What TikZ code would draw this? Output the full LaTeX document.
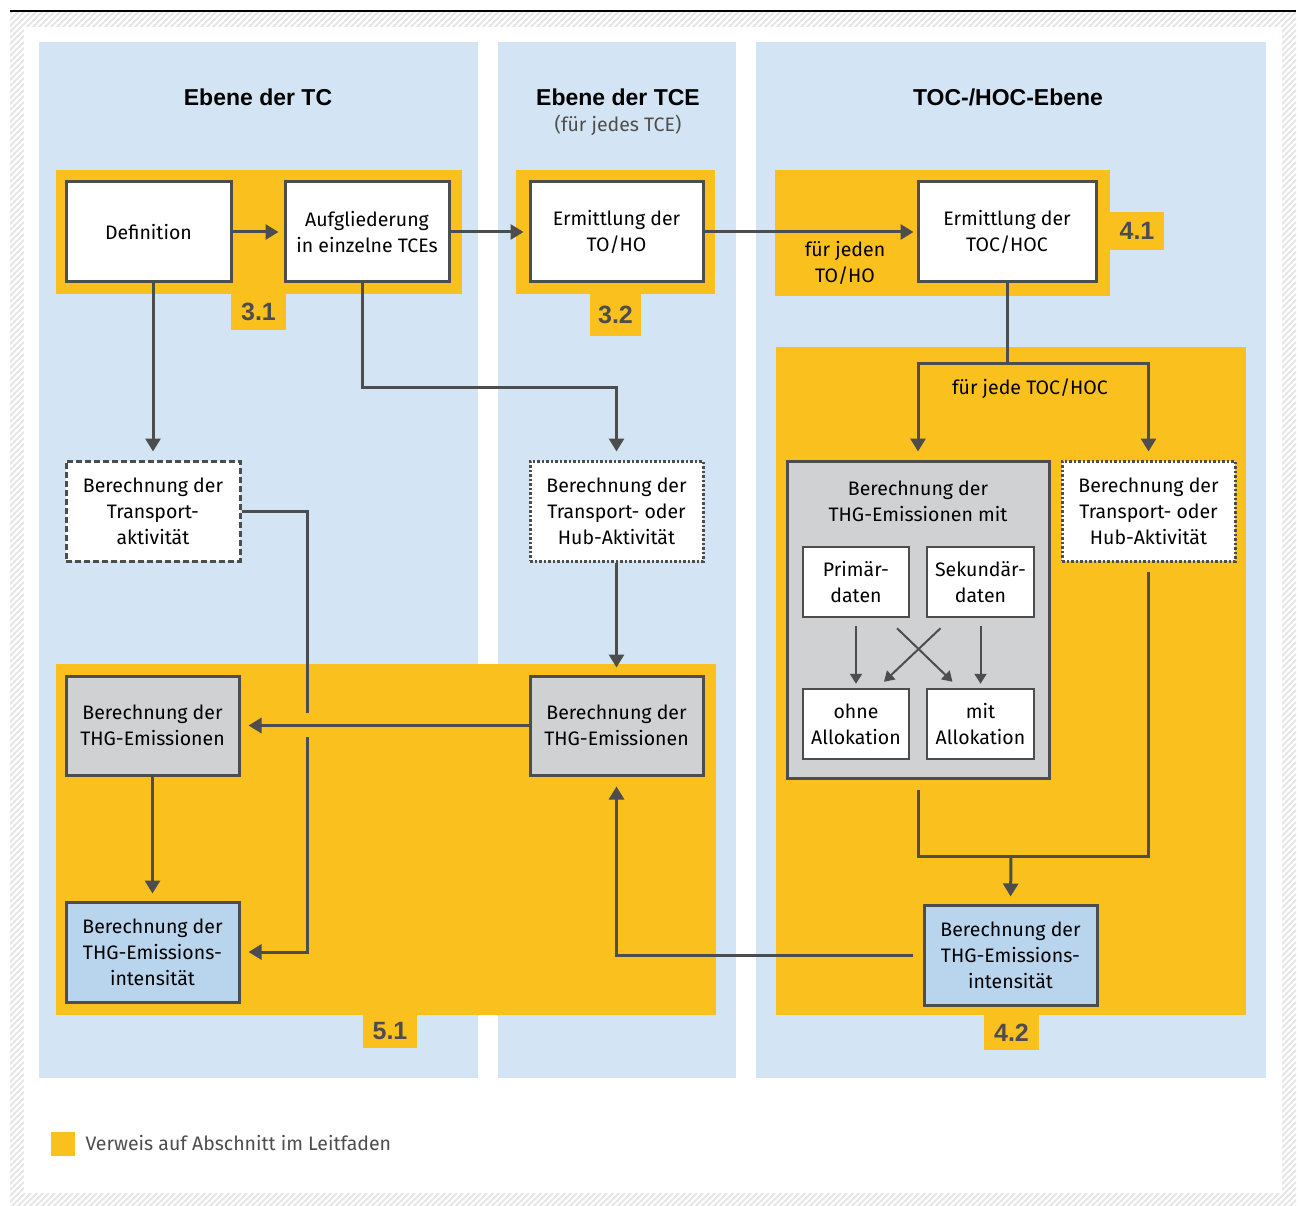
\documentclass[tikz,border=0pt]{standalone}
\usepackage{fontspec}
\setmainfont{Fira Sans}
\newfontfamily\headfont{Liberation Sans}
\usetikzlibrary{arrows.meta,calc}
\definecolor{colbg}{HTML}{D3E5F4}
\definecolor{secyel}{HTML}{F9C01E}
\definecolor{linegr}{HTML}{4D4D4D}
\definecolor{boxgr}{HTML}{D0D1D3}
\definecolor{boxbl}{HTML}{B9D5EE}
\definecolor{hatchgr}{HTML}{E6E6E6}

\begin{document}
\begin{tikzpicture}[x=1pt,y=-1pt,
    bodytxt/.style={font=\fontsize{19.5}{26}\selectfont},
    box/.style={bodytxt,draw=linegr,line width=3pt,fill=white,align=center,inner sep=0pt},
    dashbox/.style={box,dash pattern=on 6pt off 3pt},
    dotbox/.style={box,line width=3pt,dash pattern=on 2.5pt off 2pt},
    greybox/.style={box,fill=boxgr},
    bluebox/.style={box,fill=boxbl},
    smallbox/.style={box,line width=2.5pt,minimum width=106pt,minimum height=70pt},
    head/.style={font=\headfont\bfseries\fontsize{23}{27}\selectfont},
    tabnum/.style={fill=secyel,text=linegr,font=\headfont\bfseries\fontsize{25}{27}\selectfont,inner sep=0pt},
    ln/.style={draw=linegr,line width=3pt},
    arr/.style={ln,-{Triangle[length=13pt,width=15pt]}},
    thinarr/.style={draw=linegr,line width=2pt,-{Triangle[length=10pt,width=12pt]}}]
\useasboundingbox (0,0) rectangle (1298,1206);
\fill[white] (0,0) rectangle (1298,1206);
\begin{scope}
\clip (10,13) rectangle (1296,1206);
\foreach \i in {-1300,-1294,...,1300}
  \draw[hatchgr,line width=2pt] (\i,1210) -- ++(1310,-1310);
\end{scope}
\fill[white] (24,27) rectangle (1282,1193);
\draw[black,line width=1.5pt] (10,11) -- (1296,11);
\fill[colbg] (39,42) rectangle (478,1078);
\fill[colbg] (498,42) rectangle (736,1078);
\fill[colbg] (756,42) rectangle (1266,1078);
\fill[secyel] (56,170) rectangle (462,294);
\fill[secyel] (516,170) rectangle (715,294);
\fill[secyel] (775,170) rectangle (1110,296);
\fill[secyel] (776,347) rectangle (1246,1015);
\fill[secyel] (56,664) rectangle (716,1015);
\node[tabnum,minimum width=55pt,minimum height=36pt] (t31) at (258.5,312) {3.1};
\node[tabnum,minimum width=51pt,minimum height=42pt] (t32) at (615.5,315) {3.2};
\node[tabnum,minimum width=54pt,minimum height=38pt] (t41) at (1137,231) {4.1};
\node[tabnum,minimum width=55pt,minimum height=35pt] (t42) at (1011.5,1032.5) {4.2};
\node[tabnum,minimum width=54pt,minimum height=33pt] (t51) at (390,1031.5) {5.1};
\node[head] (htc) at (258,97) {Ebene der TC};
\node[head] (htce) at (618,97) {Ebene der TCE};
\node[bodytxt,text=linegr] (htce2) at (618,125) {(für jedes TCE)};
\node[head] (htoc) at (1008,97) {TOC-/HOC-Ebene};
\node[box,minimum width=165pt,minimum height=100pt] (def) at (148.5,232) {Definition};
\node[box,minimum width=164pt,minimum height=100pt] (auf) at (367,232) {Aufgliederung\\in einzelne TCEs};
\node[box,minimum width=173pt,minimum height=100pt] (toho) at (616.5,232) {Ermittlung der\\TO/HO};
\node[box,minimum width=178pt,minimum height=100pt] (toc) at (1007,232) {Ermittlung der\\TOC/HOC};
\node[dashbox,minimum width=174pt,minimum height=100pt] (tra) at (153,511) {Berechnung der\\Transport-\\aktivität};
\node[dotbox,minimum width=173pt,minimum height=100pt] (hubm) at (616.5,511) {Berechnung der\\Transport- oder\\Hub-Aktivität};
\node[dotbox,minimum width=173pt,minimum height=100pt] (hubr) at (1148.5,511) {Berechnung der\\Transport- oder\\Hub-Aktivität};
\node[greybox,minimum width=262pt,minimum height=317pt] (grey) at (918,619.5) {};
\node[bodytxt,align=center] (greyt) at (918,501) {Berechnung der\\THG-Emissionen mit};
\node[smallbox] (prim) at (856,582) {Primär-\\daten};
\node[smallbox,minimum width=107pt] (sek) at (980.5,582) {Sekundär-\\daten};
\node[smallbox] (ohne) at (856,724) {ohne\\Allokation};
\node[smallbox,minimum width=107pt] (mit) at (980.5,724) {mit\\Allokation};
\node[greybox,minimum width=173pt,minimum height=99pt] (thgl) at (152.5,725.5) {Berechnung der\\THG-Emissionen};
\node[greybox,minimum width=173pt,minimum height=99pt] (thgm) at (616.5,725.5) {Berechnung der\\THG-Emissionen};
\node[bluebox,minimum width=173pt,minimum height=100pt] (intl) at (152.5,952) {Berechnung der\\THG-Emissions-\\intensität};
\node[bluebox,minimum width=173pt,minimum height=100pt] (intr) at (1010.5,955) {Berechnung der\\THG-Emissions-\\intensität};
\node[bodytxt,align=center] (lto) at (845,263) {für jeden\\TO/HO};
\node[bodytxt] (ltoc) at (1030,389) {für jede TOC/HOC};
\coordinate (gapa) at (307,713);
\coordinate (gapb) at (307,737);
\coordinate (join) at (1011,856);
\draw[arr,shorten >=5pt] (def) -- (auf);
\draw[arr,shorten >=5pt] (auf) -- (toho);
\draw[arr,shorten >=3pt] (toho) -- (toc);
\draw[arr,shorten >=8pt] (def.south -| tra.north) -- (tra.north);
\draw[arr,shorten >=8pt] (auf.south -| 362,0) -- ++(0,104) -| (hubm.north);
\draw[arr,shorten >=8pt] (toc.south) -- ++(0,80) -| (grey.north);
\draw[arr,shorten >=8pt] (toc.south) ++(0,80) -| (hubr.north);
\draw[ln] (tra.east) -| (gapa);
\draw[arr,shorten >=8pt] (gapb) |- (intl.east);
\draw[arr,shorten >=7pt] (hubm) -- (thgm);
\draw[arr,shorten >=8pt] (thgm) -- (thgl);
\draw[arr,shorten >=7pt] (thgl) -- (intl);
\draw[arr,shorten <=10pt,shorten >=10pt] (intr.west) -| (thgm.south);
\draw[ln,shorten <=10pt,shorten >=9pt] (grey.south) |- (join) -| (hubr.south);
\draw[arr,shorten >=7pt] (join) -- (intr.north);
\draw[thinarr,shorten <=8pt,shorten >=4pt] (prim) -- (ohne);
\draw[thinarr,shorten <=8pt,shorten >=4pt] (sek) -- (mit);
\draw[thinarr] ($(prim.south)+(41,10)$) -- ($(mit.north)+(-28,-6)$);
\draw[thinarr] ($(sek.south)+(-40,10)$) -- ($(ohne.north)+(28,-6)$);
\fill[secyel] (51,1132) rectangle (75,1156);
\node[bodytxt,text=linegr,anchor=west] (leg) at (82,1143) {Verweis auf Abschnitt im Leitfaden};
\end{tikzpicture}
\end{document}
